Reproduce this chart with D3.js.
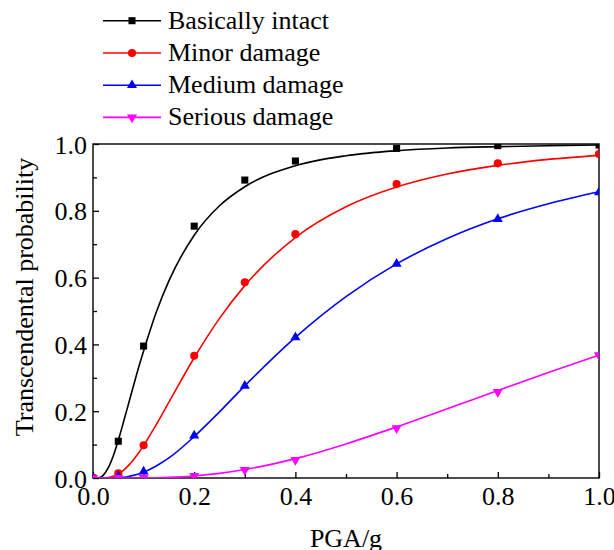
<!DOCTYPE html>
<html>
<head>
<meta charset="utf-8">
<script src="https://cdn.jsdelivr.net/npm/d3@7"></script>
<style>
  html, body { margin: 0; padding: 0; background: #fff; }
  svg { display: block; }
  text { font-family: "Liberation Serif", "Times New Roman", serif; fill: #000; }
</style>
</head>
<body>
<div id="chart"></div>
<script>
// measured points (PGA in g)
const pga = [0, 0.05, 0.1, 0.2, 0.3, 0.4, 0.6, 0.8, 1.0];
const intactPts  = [0, 0.110, 0.395, 0.754, 0.892, 0.949, 0.987, 0.995, 0.997];
const minorPts   = [0, 0.014, 0.098, 0.366, 0.586, 0.730, 0.880, 0.942, 0.970];
const mediumPts  = [0, 0.004, 0.019, 0.127, 0.276, 0.421, 0.641, 0.775, 0.855];
const seriousPts = [0, 0.000, 0.001, 0.006, 0.024, 0.054, 0.149, 0.258, 0.368];

// fitted curves
const curveX     = [0, 0.01, 0.02, 0.03, 0.04, 0.05, 0.06, 0.07, 0.08, 0.09, 0.1, 0.125, 0.15, 0.2, 0.25, 0.3, 0.4, 0.5, 0.6, 0.7, 0.8, 0.9, 1.0];
const intactFit  = [0, 0.0005, 0.008, 0.030, 0.066, 0.113, 0.166, 0.221, 0.276, 0.330, 0.380, 0.496, 0.590, 0.727, 0.815, 0.872, 0.935, 0.965, 0.980, 0.988, 0.992, 0.995, 0.997];
const minorFit   = [0, 0, 0.0002, 0.0017, 0.0055, 0.0125, 0.023, 0.037, 0.055, 0.075, 0.097, 0.160, 0.227, 0.360, 0.478, 0.576, 0.720, 0.812, 0.871, 0.910, 0.936, 0.954, 0.966];
const mediumFit  = [0, 0, 0, 0.0001, 0.0004, 0.0011, 0.0024, 0.0046, 0.0078, 0.012, 0.0174, 0.036, 0.060, 0.124, 0.198, 0.276, 0.421, 0.543, 0.641, 0.717, 0.776, 0.821, 0.857];
const seriousFit = [0, 0, 0, 0, 0, 0, 0, 0.0001, 0.0001, 0.0002, 0.0003, 0.0009, 0.0019, 0.0062, 0.0138, 0.0252, 0.058, 0.102, 0.153, 0.207, 0.262, 0.316, 0.368];

const seriesNames = ["Basically intact", "Minor damage", "Medium damage", "Serious damage"];
const xTicks = [0, 0.2, 0.4, 0.6, 0.8, 1.0];
const yTicks = [0, 0.2, 0.4, 0.6, 0.8, 1.0];

const width = 614, height = 550;
const plot = { left: 93, right: 599, top: 144, bottom: 478 };

const series = [
  { name: seriesNames[0], color: "#000000", shape: d3.symbolSquare,   size: 50, rot: 0,   pts: intactPts,  fit: intactFit },
  { name: seriesNames[1], color: "#ff0000", shape: d3.symbolCircle,   size: 52, rot: 0,   pts: minorPts,   fit: minorFit },
  { name: seriesNames[2], color: "#0000ff", shape: d3.symbolTriangle, size: 44, rot: 0,   pts: mediumPts,  fit: mediumFit },
  { name: seriesNames[3], color: "#ff00ff", shape: d3.symbolTriangle, size: 44, rot: 180, pts: seriousPts, fit: seriousFit },
];

const svg = d3.select("#chart").append("svg")
  .attr("width", width).attr("height", height);

const x = d3.scaleLinear().domain([0, 1]).range([plot.left, plot.right]);
const y = d3.scaleLinear().domain([0, 1]).range([plot.bottom, plot.top]);

svg.append("clipPath").attr("id", "clip")
  .append("rect")
  .attr("x", plot.left).attr("y", plot.top)
  .attr("width", plot.right - plot.left).attr("height", plot.bottom - plot.top);

// --- axes (ticks point inward) ---
const minorX = d3.range(0.1, 1, 0.2);
const minorY = d3.range(0.1, 1, 0.2);

const gx = svg.append("g").attr("transform", `translate(0,${plot.bottom})`)
  .call(d3.axisBottom(x).tickValues(xTicks).tickSize(-6).tickPadding(10).tickFormat(d3.format(".1f")));
svg.append("g").attr("transform", `translate(0,${plot.bottom})`)
  .call(d3.axisBottom(x).tickValues(minorX).tickSize(-4).tickFormat(""));

const gy = svg.append("g").attr("transform", `translate(${plot.left},0)`)
  .call(d3.axisLeft(y).tickValues(yTicks).tickSize(-6).tickPadding(6).tickFormat(d3.format(".1f")));
svg.append("g").attr("transform", `translate(${plot.left},0)`)
  .call(d3.axisLeft(y).tickValues(minorY).tickSize(-4).tickFormat(""));

svg.selectAll(".domain").remove();
svg.selectAll(".tick line").attr("stroke", "#000").attr("stroke-width", 1.3);
svg.selectAll(".tick text").style("font-size", "26px").attr("fill", "#000");
gx.selectAll(".tick text").attr("dy", null).attr("y", 27);
gy.selectAll(".tick text").attr("dy", null).attr("y", 9).attr("x", -6);

// frame
svg.append("rect")
  .attr("x", plot.left).attr("y", plot.top)
  .attr("width", plot.right - plot.left).attr("height", plot.bottom - plot.top)
  .attr("fill", "none").attr("stroke", "#000").attr("stroke-width", 1.4);

// --- curves and markers ---
const line = d3.line()
  .x(d => x(d[0])).y(d => y(d[1]))
  .curve(d3.curveMonotoneX);

const marks = svg.append("g").attr("clip-path", "url(#clip)");

series.forEach(s => {
  marks.append("path")
    .datum(curveX.map((v, i) => [v, s.fit[i]]))
    .attr("d", line)
    .attr("fill", "none")
    .attr("stroke", s.color)
    .attr("stroke-width", 1.6);
});

series.forEach(s => {
  marks.append("g").selectAll("path")
    .data(pga.map((v, i) => [v, s.pts[i]]))
    .join("path")
    .attr("d", d3.symbol().type(s.shape).size(s.size))
    .attr("transform", d => `translate(${x(d[0])},${y(d[1])}) rotate(${s.rot})`)
    .attr("fill", s.color);
});

// --- legend ---
const legend = svg.append("g");
const rowY = [20.7, 53, 85.2, 117.4];
series.forEach((s, i) => {
  const g = legend.append("g").attr("transform", `translate(0,${rowY[i]})`);
  g.append("line").attr("x1", 103).attr("x2", 161)
    .attr("stroke", s.color).attr("stroke-width", 1.6);
  g.append("path")
    .attr("d", d3.symbol().type(s.shape).size(s.size))
    .attr("transform", `translate(132,0) rotate(${s.rot})`)
    .attr("fill", s.color);
  g.append("text").attr("x", 168).attr("y", 8)
    .style("font-size", "26px").text(s.name);
});

// --- axis titles ---
svg.append("text")
  .attr("transform", "translate(33,297) rotate(-90)")
  .attr("text-anchor", "middle")
  .style("font-size", "26px")
  .text("Transcendental probability");

svg.append("text")
  .attr("x", 346).attr("y", 547)
  .attr("text-anchor", "middle")
  .style("font-size", "26px")
  .text("PGA/g");
</script>
</body>
</html>
